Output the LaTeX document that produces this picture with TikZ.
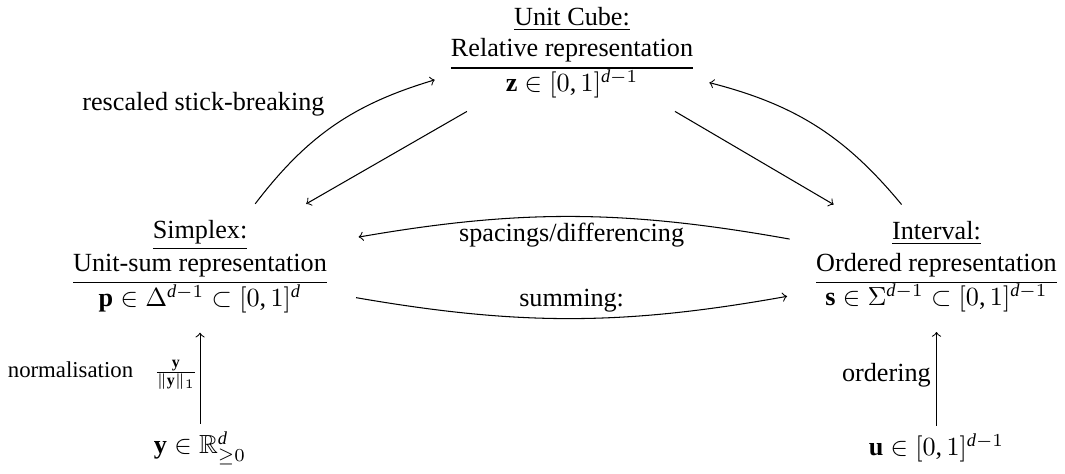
\documentclass[tikz,border=0pt]{standalone}
\usepackage{amsmath,amssymb}
\usepackage{fontspec}
\setmainfont{Liberation Serif}
\DeclareSymbolFont{letters}{TU}{\rmdefault}{m}{it}
\DeclareMathSymbol{,}{\mathpunct}{operators}{`,}
\usetikzlibrary{positioning}

\begin{document}
\begin{tikzpicture}[>=to,
  rep/.style={inner sep=0pt,outer sep=5pt},
  ptnode/.style={inner sep=0pt,outer sep=3pt},
  lbl/.style={inner sep=2pt}]
\useasboundingbox (0,0) rectangle (14.295,6.349);
% the three representations
\node[rep] (cube) at (7.678,5.665) {$\genfrac{}{}{0.4pt}{1}{\mbox{\begin{tabular}{@{}c@{}}\underline{Unit Cube:}\\Relative representation\end{tabular}}}{\textstyle\mathbf{z}\in[0,1]^{d-1}}$};
\node[rep] (simplex) at (2.685,2.792) {$\genfrac{}{}{0.4pt}{1}{\mbox{\begin{tabular}{@{}c@{}}\underline{Simplex:}\\Unit-sum representation\end{tabular}}}{\textstyle\mathbf{p}\in\Delta^{d-1}\subset[0,1]^{d}}$};
\node[rep] (interval) at (12.57,2.792) {$\genfrac{}{}{0.4pt}{1}{\mbox{\begin{tabular}{@{}c@{}}\underline{Interval:}\\Ordered representation\end{tabular}}}{\textstyle\mathbf{s}\in\Sigma^{d-1}\subset[0,1]^{d-1}}$};
% starting points
\node[ptnode] (ynode) at (2.685,0.336) {$\mathbf{y}\in\mathbb{R}^{d}_{\geq 0}$};
\node[ptnode] (unode) at (12.57,0.336) {$\mathbf{u}\in[0,1]^{d-1}$};
\draw[->] (cube) -- (simplex);
\draw[->] (cube) -- (interval);
\draw[->] (simplex) to[bend left=18] node[above left] {rescaled stick-breaking} (cube);
\draw[->] (interval.120) to[bend right=18] (cube.-13);
\draw[->,shorten >=6pt,shorten <=4pt] (interval.170) to[bend right=10] node[lbl,below] {spacings/differencing} (simplex.10);
\draw[->,shorten >=5pt,shorten <=5pt] (simplex.-12) to[bend right=10] node[lbl,above] {summing:} (interval.-168);
\draw[->,shorten >=2.5pt] (ynode) -- node[left,inner sep=0.5pt,font=\fontsize{8.7pt}{10.4pt}\selectfont] {normalisation\hspace{0.9em}$\frac{\mathbf{y}}{\|\mathbf{y}\|_1}$} (simplex);
\draw[->,shorten >=2.5pt] (unode) -- node[lbl,left] {ordering} (interval);
\end{tikzpicture}
\end{document}
